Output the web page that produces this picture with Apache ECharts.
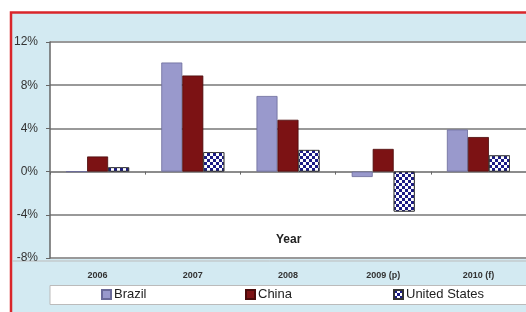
<!DOCTYPE html>
<html>
<head>
<meta charset="utf-8">
<script src="https://cdn.jsdelivr.net/npm/echarts@6/dist/echarts.min.js"></script>
<style>
  html, body { margin: 0; padding: 0; background: #fff; }
  #chart { width: 526px; height: 312px; }
</style>
</head>
<body>
<div id="chart"></div>
<script>
// datos
var years = ['2006', '2007', '2008', '2009 (p)', '2010 (f)'];
var brazil = [0, 10.1, 7.0, -0.5, 3.9];
var china = [1.4, 8.9, 4.8, 2.1, 3.2];
var unitedStates = [0.4, 1.8, 2.0, -3.7, 1.5];
var yTicks = [-8, -4, 0, 4, 8, 12];

var chart = echarts.init(document.getElementById('chart'));

var barBase = { type: 'bar', xAxisIndex: 0, barWidth: 21, barGap: '0%' };

var option = {
    animation: false,
    backgroundColor: '#fff',
    graphic: [
        // fondo azul claro con borde rojo
        { type: 'rect', z: -10, shape: { x: 11, y: 12.5, width: 540, height: 320 },
          style: { fill: '#d3eaf2', stroke: '#d9262b', lineWidth: 2.5 } },
        // fila de la leyenda
        { type: 'rect', z: -9, shape: { x: 50, y: 285.5, width: 490, height: 19 },
          style: { fill: '#fff', stroke: '#bbb', lineWidth: 1 } },
        { type: 'line', z: -9, shape: { x1: 12, y1: 261, x2: 540, y2: 261 },
          style: { stroke: '#bbb', lineWidth: 1 } },
        { type: 'text', left: 276, top: 234,
          style: { text: 'Year', font: 'bold 12px Arial, "Liberation Sans"', fill: '#222' } }
    ],
    grid: {
        show: true, backgroundColor: '#fff', borderWidth: 0,
        left: 50, top: 42, right: -6, bottom: 54
    },
    legend: [
        { data: ['Brazil'], left: 101, top: 288 },
        { data: ['China'], left: 245, top: 288 },
        { data: ['United States'], left: 393, top: 288 }
    ].map(function (l) {
        l.icon = 'rect';
        l.itemWidth = 9; l.itemHeight = 9; l.itemGap = 4;
        l.padding = 0;
        l.textStyle = { fontSize: 13, color: '#222', fontFamily: 'Arial, "Liberation Sans"',
            padding: [0, 0, 0, -2] };
        return l;
    }),
    xAxis: [
        {
            type: 'category', data: years,
            axisLine: { onZero: true, lineStyle: { color: '#888', width: 1.5 } },
            axisTick: { show: true, length: 3, lineStyle: { color: '#666' } },
            axisLabel: { show: false }
        },
        {
            type: 'category', data: years, position: 'bottom',
            axisLine: { show: false }, axisTick: { show: false },
            axisLabel: { margin: 13, fontSize: 9, fontWeight: 'bold', color: '#333',
                fontFamily: 'Arial, "Liberation Sans"' }
        }
    ],
    yAxis: {
        type: 'value', min: yTicks[0], max: yTicks[yTicks.length - 1], interval: 4,
        axisLine: { show: true, lineStyle: { color: '#666', width: 1.5 } },
        axisTick: { show: true, length: 4, lineStyle: { color: '#666' } },
        splitLine: { lineStyle: { color: '#999', width: 2 } },
        axisLabel: {
            margin: 12, fontSize: 12, color: '#333', fontFamily: 'Arial, "Liberation Sans"',
            formatter: function (v) { return v + '%'; }
        }
    },
    series: [
        Object.assign({}, barBase, {
            name: 'Brazil', data: brazil,
            itemStyle: { color: '#9999cc', borderColor: '#6a6a99', borderWidth: 0.8 }
        }),
        Object.assign({}, barBase, {
            name: 'China', data: china,
            itemStyle: { color: '#7c1214', borderColor: '#4a0a0a', borderWidth: 0.8 }
        }),
        Object.assign({}, barBase, {
            name: 'United States', data: unitedStates,
            itemStyle: {
                color: '#1c1c86', borderColor: '#333', borderWidth: 0.8,
                decal: { symbol: 'rect', color: '#ffffff', symbolSize: 1,
                    dashArrayX: [[3, 3], [0, 3, 3, 0]], dashArrayY: [3, 0], rotation: 0 }
            }
        })
    ]
};

chart.setOption(option);
</script>
</body>
</html>
